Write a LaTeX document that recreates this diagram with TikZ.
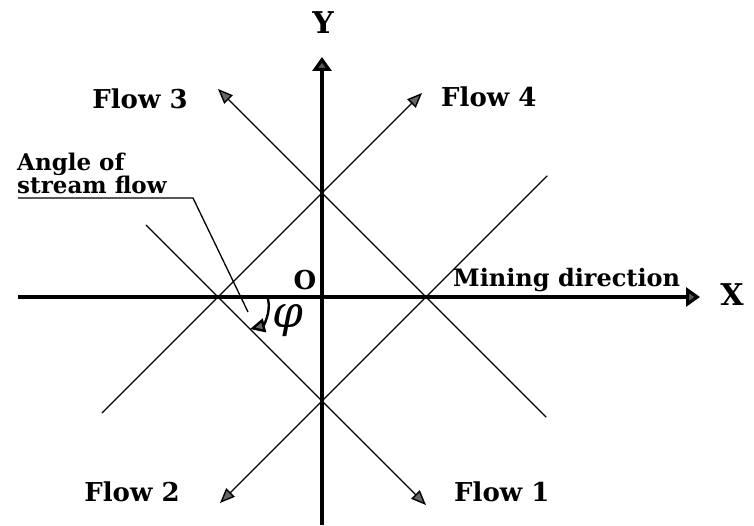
\documentclass[tikz,border=0pt]{standalone}
\usepackage{fontspec}
\setmainfont{DejaVu Serif}
\usepackage{tikz}
\usetikzlibrary{arrows.meta, positioning, calc}

\begin{document}
\begin{tikzpicture}[x=1pt, y=1pt, every node/.style={font=\bfseries\fontsize{26}{28}\selectfont, inner sep=1pt}]
  % styles
  \tikzstyle{axis}=[line width=3.2pt, -{Triangle[length=14pt, width=19pt, fill=black!65]}]
  \tikzstyle{flowline}=[line width=1.4pt, line cap=round]
  \tikzstyle{flowarrow}=[flowline, -{Triangle[length=15pt, width=12pt, fill=black!60]}]
  \tikzstyle{leader}=[line width=1.3pt]
  \tikzstyle{axislabel}=[font=\bfseries\fontsize{30}{32}\selectfont]
  \tikzstyle{smalllabel}=[font=\bfseries\fontsize{23}{23}\selectfont, align=left]

  \useasboundingbox (0,0) rectangle (754,525);

  % axes
  \coordinate (O) at (322,228);
  \coordinate (xstart) at (18,228);
  \coordinate (xend) at (700,228);
  \coordinate (ystart) at (322,0);
  \coordinate (yend) at (322,468);
  \draw[axis] (xstart) -- (xend);
  \draw[axis] (ystart) -- (yend);

  % corners of the square of flow lines
  \coordinate (left) at (218,228);
  \coordinate (top) at (322,332);
  \coordinate (right) at (426,228);
  \coordinate (bottom) at (322,124);

  % ends of the flow lines
  \coordinate (a1) at ($(left)+(-72,72)$);
  \coordinate (f1) at ($(bottom)+(104,-104)$);
  \coordinate (f3) at ($(top)+(-104,104)$);
  \coordinate (b2) at ($(right)+(120,-120)$);
  \coordinate (f2) at ($(bottom)+(-102,-102)$);
  \coordinate (c2) at ($(right)+(121,121)$);
  \coordinate (d1) at ($(left)+(-116,-116)$);
  \coordinate (f4) at ($(top)+(100,100)$);

  % flow lines
  \draw[flowarrow] (a1) -- (left) -- (bottom) -- (f1);
  \draw[flowarrow] (b2) -- (right) -- (top) -- (f3);
  \draw[flowarrow] (c2) -- (right) -- (bottom) -- (f2);
  \draw[flowarrow] (d1) -- (left) -- (top) -- (f4);

  % labels
  \node (xlabel) [axislabel] at (732,230) {X};
  \node (ylabel) [axislabel] at (323,502) {Y};
  \node (origin) at (305,245) {O};
  \node (mining) [anchor=base west, font=\bfseries\fontsize{24}{26}\selectfont] at (452,238) {Mining direction};
  \node (flow3) at (140,426) {Flow 3};
  \node (flow4) [anchor=west] at (440,428) {Flow 4};
  \node (flow2) at (132,33) {Flow 2};
  \node (flow1) [anchor=west] at (453,33) {Flow 1};

  % angle of stream flow
  \node (anglelbl) [smalllabel, anchor=south west] at (16,330) {Angle of\\stream flow};
  \coordinate (lead0) at (18,327);
  \coordinate (lead1) at (193,327);
  \coordinate (lead2) at (248,213);
  \draw[leader] (lead0) -- (lead1) -- (lead2);
  \coordinate (phistart) at (268,226);
  \coordinate (phiend) at (250,196);
  \draw[line width=2.4pt, -{Triangle[length=15pt, width=14pt, fill=black!60]}] (phistart) to[bend left=45] (phiend);
  \node (phi) [font=\normalfont\itshape\fontsize{44}{44}\selectfont] at (288,204) {φ};
\end{tikzpicture}
\end{document}
